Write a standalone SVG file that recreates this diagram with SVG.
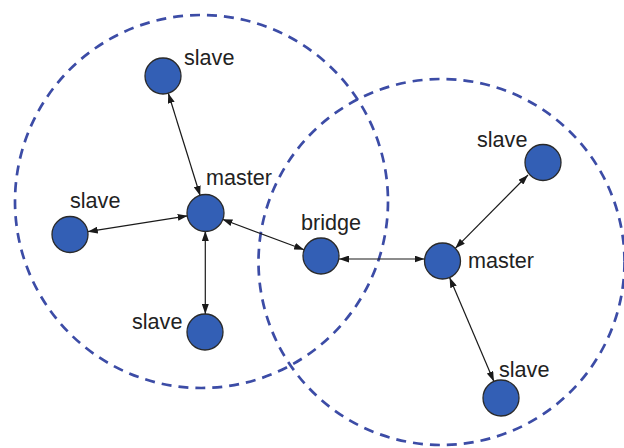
<svg xmlns="http://www.w3.org/2000/svg" width="624" height="448" viewBox="0 0 624 448">
  <style>
    .zone { fill: none; stroke: #3c4ca6; stroke-width: 2.7; stroke-dasharray: 10 7; }
    .link { stroke: #1a1a1a; stroke-width: 1.2; fill: none; marker-start: url(#head); marker-end: url(#head); }
    .dev { fill: #335fb5; stroke: #2a2a2a; stroke-width: 1.3; }
    .lbl { font-family: "Liberation Sans", Arial, sans-serif; font-size: 21.6px; fill: #222; }
  </style>
  <defs>
    <marker id="head" viewBox="0 0 10 7" refX="10" refY="3.5" markerWidth="10" markerHeight="7" markerUnits="userSpaceOnUse" orient="auto-start-reverse">
      <path d="M0,0 L10,3.5 L0,7 z" fill="#1a1a1a"/>
    </marker>
  </defs>
  <rect width="624" height="448" fill="#ffffff"/>

  <!-- piconet ranges -->
  <g id="ranges">
    <circle class="zone" cx="201.5" cy="201.5" r="186.5"/>
    <circle class="zone" cx="441.5" cy="262" r="183"/>
  </g>

  <!-- links -->
  <g id="connectors">
    <line class="link" x1="168.3" y1="93.2" x2="200.2" y2="195.8"/>
    <line class="link" x1="87.8" y1="231.7" x2="187.7" y2="215.8"/>
    <line class="link" x1="205.3" y1="231" x2="205.3" y2="314"/>
    <line class="link" x1="222.4" y1="219.2" x2="304.1" y2="249.8"/>
    <line class="link" x1="339" y1="259" x2="424.5" y2="259"/>
    <line class="link" x1="455.3" y1="248.3" x2="528" y2="175"/>
    <line class="link" x1="449.6" y1="277.6" x2="493.9" y2="381.4"/>
  </g>

  <!-- devices -->
  <g id="slave-top">
    <circle class="dev" cx="163" cy="76" r="18"/>
    <text class="lbl" x="184" y="65">slave</text>
  </g>
  <g id="master-left">
    <circle class="dev" cx="205.5" cy="213" r="18.5"/>
    <text class="lbl" x="206" y="185">master</text>
  </g>
  <g id="slave-left">
    <circle class="dev" cx="70" cy="234.5" r="18"/>
    <text class="lbl" x="70" y="208">slave</text>
  </g>
  <g id="slave-bottom-left">
    <circle class="dev" cx="205" cy="332" r="18"/>
    <text class="lbl" x="132" y="329">slave</text>
  </g>
  <g id="bridge">
    <circle class="dev" cx="321" cy="256" r="18"/>
    <text class="lbl" x="301" y="230">bridge</text>
  </g>
  <g id="master-right">
    <circle class="dev" cx="442.5" cy="261" r="18"/>
    <text class="lbl" x="468" y="268">master</text>
  </g>
  <g id="slave-right">
    <circle class="dev" cx="543" cy="162.5" r="18"/>
    <text class="lbl" x="477" y="147">slave</text>
  </g>
  <g id="slave-bottom-right">
    <circle class="dev" cx="501" cy="398" r="18"/>
    <text class="lbl" x="499" y="377">slave</text>
  </g>
</svg>
